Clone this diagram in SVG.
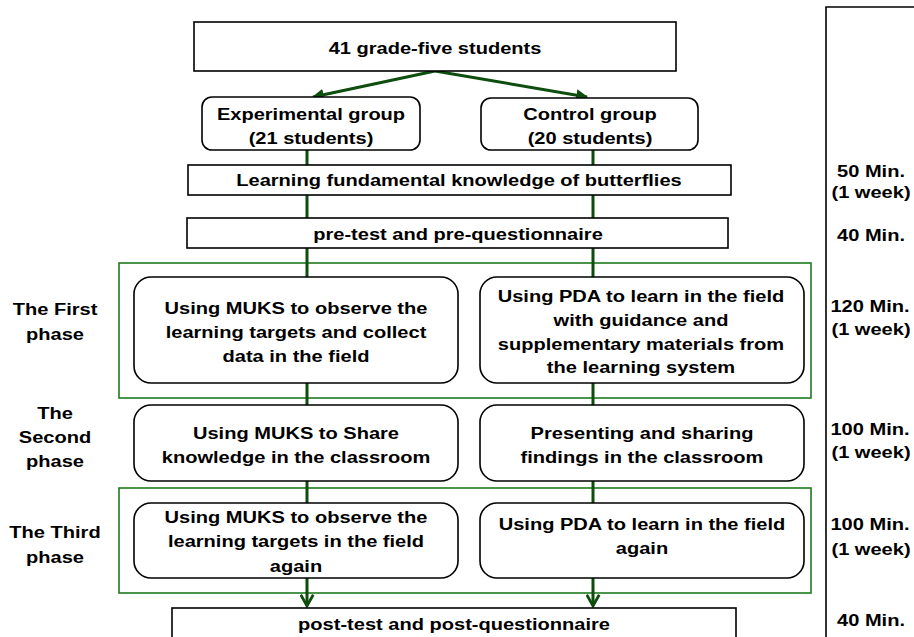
<svg xmlns="http://www.w3.org/2000/svg" width="914" height="637" viewBox="0 0 914 637">
<defs>
<style>
text{font-family:"Liberation Sans",Arial,sans-serif;font-weight:bold;font-size:17px;fill:#000;text-anchor:middle}
.box{fill:#fff;stroke:#000;stroke-width:1.6}
.frame{fill:none;stroke:#1f7a1f;stroke-width:1.6}
.conn{stroke:#0d4d0d;stroke-width:3;fill:none}
</style>
<marker id="ah" viewBox="0 0 10 10" refX="9" refY="5" markerWidth="4" markerHeight="4" orient="auto" markerUnits="strokeWidth">
<path d="M0,0 L10,5 L0,10 Z" fill="#0d4d0d"/>
</marker>
<marker id="av" viewBox="0 0 12 12" refX="10" refY="6" markerWidth="5" markerHeight="5" orient="auto" markerUnits="strokeWidth">
<path d="M1,1 L10,6 L1,11" fill="none" stroke="#0d4d0d" stroke-width="2.2"/>
</marker>
</defs>
<rect width="914" height="637" fill="#fff"/>
<g id="frames">
<rect class="frame" x="119" y="263" width="692" height="135"/>
<rect class="frame" x="119" y="488" width="692" height="105"/>
</g>
<g id="connectors">
<line class="conn" x1="435" y1="71" x2="313" y2="97" marker-end="url(#ah)"/>
<line class="conn" x1="435" y1="71" x2="587" y2="97" marker-end="url(#ah)"/>
<line class="conn" x1="307" y1="150" x2="307" y2="165"/>
<line class="conn" x1="307" y1="195" x2="307" y2="218"/>
<line class="conn" x1="307" y1="248" x2="307" y2="277"/>
<line class="conn" x1="307" y1="383" x2="307" y2="405"/>
<line class="conn" x1="307" y1="481" x2="307" y2="503"/>
<line class="conn" x1="307" y1="578" x2="307" y2="606" marker-end="url(#av)"/>
<line class="conn" x1="593" y1="150" x2="593" y2="165"/>
<line class="conn" x1="593" y1="195" x2="593" y2="218"/>
<line class="conn" x1="593" y1="248" x2="593" y2="277"/>
<line class="conn" x1="593" y1="383" x2="593" y2="405"/>
<line class="conn" x1="593" y1="481" x2="593" y2="503"/>
<line class="conn" x1="593" y1="578" x2="593" y2="606" marker-end="url(#av)"/>
</g>
<g id="n-students">
<rect class="box" x="194" y="22" width="482" height="49"/>
<text transform="matrix(1.18 0 0 1 435 54)">41 grade-five students</text>
</g>
<g id="n-exp">
<rect class="box" x="202" y="97" width="218" height="53" rx="10"/>
<text transform="matrix(1.18 0 0 1 311 120)">Experimental group</text>
<text transform="matrix(1.18 0 0 1 311 144)">(21 students)</text>
</g>
<g id="n-ctrl">
<rect class="box" x="481" y="98" width="217" height="52" rx="10"/>
<text transform="matrix(1.18 0 0 1 590 120)">Control group</text>
<text transform="matrix(1.18 0 0 1 590 144)">(20 students)</text>
</g>
<g id="n-fund">
<rect class="box" x="188" y="165" width="543" height="30"/>
<text transform="matrix(1.18 0 0 1 459 186)">Learning fundamental knowledge of butterflies</text>
</g>
<g id="n-pre">
<rect class="box" x="187" y="218" width="541" height="30"/>
<text transform="matrix(1.18 0 0 1 458 240)">pre-test and pre-questionnaire</text>
</g>
<g id="n-p1-exp">
<rect class="box" x="134" y="277" width="324" height="106" rx="17"/>
<text transform="matrix(1.18 0 0 1 296 314)">Using MUKS to observe the</text>
<text transform="matrix(1.18 0 0 1 296 338)">learning targets and collect</text>
<text transform="matrix(1.18 0 0 1 296 362)">data in the field</text>
</g>
<g id="n-p1-ctrl">
<rect class="box" x="480" y="277" width="324" height="106" rx="17"/>
<text transform="matrix(1.18 0 0 1 641 302)">Using PDA to learn in the field</text>
<text transform="matrix(1.18 0 0 1 641 326)">with guidance and</text>
<text transform="matrix(1.18 0 0 1 641 350)">supplementary materials from</text>
<text transform="matrix(1.18 0 0 1 641 373)">the learning system</text>
</g>
<g id="n-p2-exp">
<rect class="box" x="134" y="405" width="324" height="76" rx="17"/>
<text transform="matrix(1.18 0 0 1 296 439)">Using MUKS to Share</text>
<text transform="matrix(1.18 0 0 1 296 463)">knowledge in the classroom</text>
</g>
<g id="n-p2-ctrl">
<rect class="box" x="480" y="405" width="324" height="76" rx="17"/>
<text transform="matrix(1.18 0 0 1 642 439)">Presenting and sharing</text>
<text transform="matrix(1.18 0 0 1 642 463)">findings in the classroom</text>
</g>
<g id="n-p3-exp">
<rect class="box" x="134" y="503" width="324" height="75" rx="17"/>
<text transform="matrix(1.18 0 0 1 296 523)">Using MUKS to observe the</text>
<text transform="matrix(1.18 0 0 1 296 547)">learning targets in the field</text>
<text transform="matrix(1.18 0 0 1 296 572)">again</text>
</g>
<g id="n-p3-ctrl">
<rect class="box" x="480" y="503" width="324" height="75" rx="17"/>
<text transform="matrix(1.18 0 0 1 642 530)">Using PDA to learn in the field</text>
<text transform="matrix(1.18 0 0 1 642 554)">again</text>
</g>
<g id="n-post">
<rect class="box" x="172" y="608" width="564" height="40"/>
<text transform="matrix(1.18 0 0 1 454 630)">post-test and post-questionnaire</text>
</g>
<g id="phase-labels">
<text transform="matrix(1.18 0 0 1 55 315)">The First</text>
<text transform="matrix(1.18 0 0 1 55 340)">phase</text>
<text transform="matrix(1.18 0 0 1 55 419)">The</text>
<text transform="matrix(1.18 0 0 1 55 443)">Second</text>
<text transform="matrix(1.18 0 0 1 55 467)">phase</text>
<text transform="matrix(1.18 0 0 1 55 538)">The Third</text>
<text transform="matrix(1.18 0 0 1 55 563)">phase</text>
</g>
<g id="time-column">
<path d="M914,7 L826,7 L826,637" fill="none" stroke="#000" stroke-width="1.6"/>
<text transform="matrix(1.18 0 0 1 871 177)">50 Min.</text>
<text transform="matrix(1.18 0 0 1 871 198)">(1 week)</text>
<text transform="matrix(1.18 0 0 1 871 241)">40 Min.</text>
<text transform="matrix(1.18 0 0 1 870 312)">120 Min.</text>
<text transform="matrix(1.18 0 0 1 871 335)">(1 week)</text>
<text transform="matrix(1.18 0 0 1 870 435)">100 Min.</text>
<text transform="matrix(1.18 0 0 1 871 458)">(1 week)</text>
<text transform="matrix(1.18 0 0 1 870 530)">100 Min.</text>
<text transform="matrix(1.18 0 0 1 871 555)">(1 week)</text>
<text transform="matrix(1.18 0 0 1 871 626)">40 Min.</text>
</g>
</svg>
